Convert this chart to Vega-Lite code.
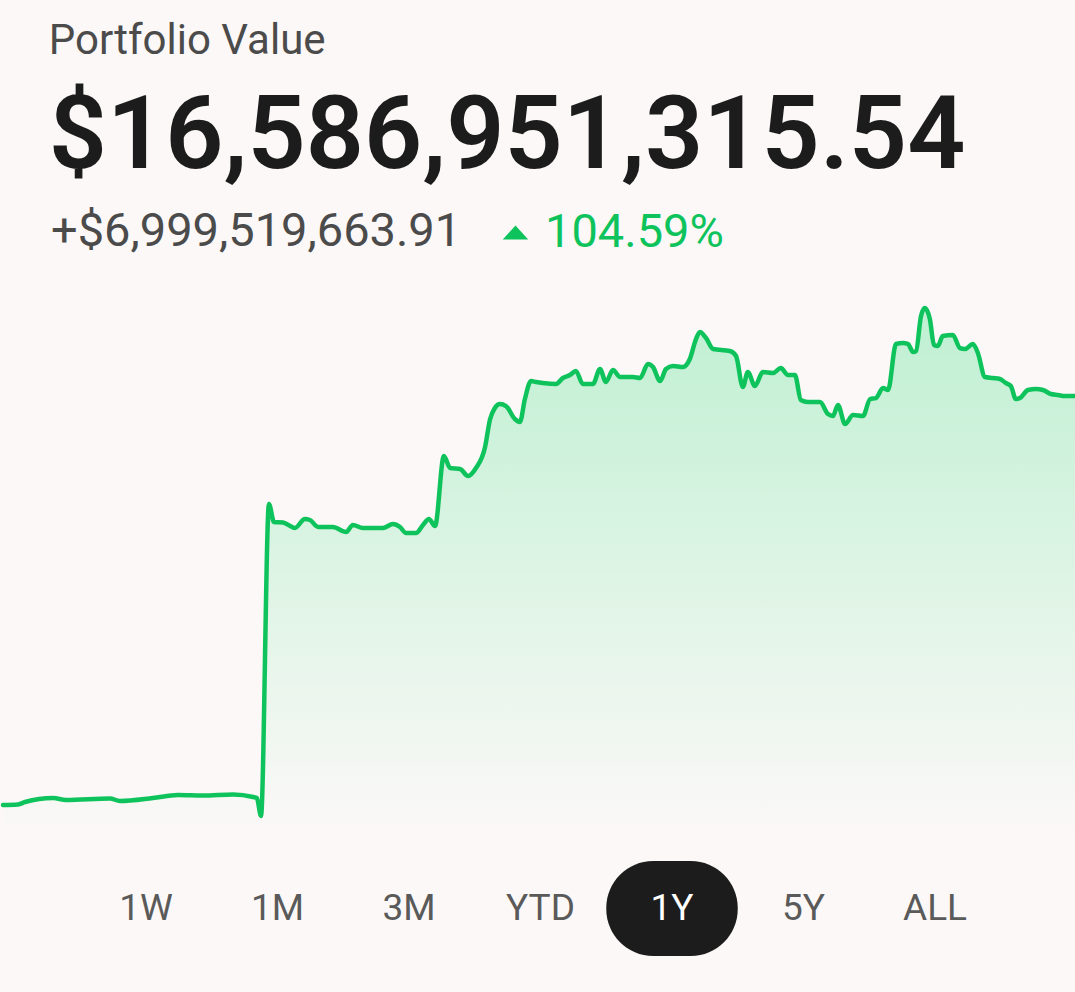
{
  "$schema": "https://vega.github.io/schema/vega-lite/v6.json",
  "description": "Portfolio value over one year, with range selector",
  "background": "#fbf8f7",
  "padding": {"top": 20, "left": 0, "right": 0, "bottom": 37},
  "config": {
    "view": {"stroke": null},
    "font": "Roboto"
  },
  "title": {
    "text": "Portfolio Value",
    "subtitle": "$16,586,951,315.54",
    "anchor": "start",
    "dx": 48,
    "offset": 20,
    "font": "Roboto",
    "fontSize": 42,
    "fontWeight": "normal",
    "color": "#4b4b4b",
    "subtitleFont": "Roboto",
    "subtitleFontSize": 102,
    "subtitleFontWeight": 600,
    "subtitleColor": "#1c1c1c",
    "subtitlePadding": 24
  },
  "spacing": 30,
  "vconcat": [
    {
      "width": 1075,
      "height": 540,
      "data": {
        "values": [
          {"day": 0, "value": 9.568}, {"day": 5.1, "value": 9.577}, {"day": 7.5, "value": 9.620},
          {"day": 17.0, "value": 9.688}, {"day": 21.4, "value": 9.654}, {"day": 36.3, "value": 9.680},
          {"day": 39.7, "value": 9.637}, {"day": 50.9, "value": 9.688}, {"day": 59.4, "value": 9.740},
          {"day": 67.9, "value": 9.731}, {"day": 78.1, "value": 9.749}, {"day": 84.9, "value": 9.706},
          {"day": 86.2, "value": 9.688}, {"day": 87.6, "value": 9.380}, {"day": 90.3, "value": 14.734},
          {"day": 92.0, "value": 14.425}, {"day": 95.1, "value": 14.416}, {"day": 99.1, "value": 14.322},
          {"day": 102.5, "value": 14.476}, {"day": 104.2, "value": 14.459}, {"day": 107.0, "value": 14.339},
          {"day": 112.0, "value": 14.339}, {"day": 116.5, "value": 14.253}, {"day": 118.8, "value": 14.373},
          {"day": 122.2, "value": 14.322}, {"day": 129.0, "value": 14.322}, {"day": 132.4, "value": 14.390},
          {"day": 134.8, "value": 14.339}, {"day": 136.8, "value": 14.236}, {"day": 140.2, "value": 14.236},
          {"day": 142.6, "value": 14.373}, {"day": 144.6, "value": 14.476}, {"day": 146.7, "value": 14.356},
          {"day": 149.7, "value": 15.557}, {"day": 151.8, "value": 15.351}, {"day": 155.2, "value": 15.334},
          {"day": 157.9, "value": 15.214}, {"day": 160.6, "value": 15.351}, {"day": 163.6, "value": 15.694},
          {"day": 165.4, "value": 16.192}, {"day": 167.0, "value": 16.381}, {"day": 168.7, "value": 16.450},
          {"day": 170.8, "value": 16.415}, {"day": 173.8, "value": 16.192}, {"day": 175.5, "value": 16.141},
          {"day": 177.2, "value": 16.535}, {"day": 179.3, "value": 16.844}, {"day": 181.0, "value": 16.827},
          {"day": 183.3, "value": 16.810}, {"day": 187.8, "value": 16.793}, {"day": 190.1, "value": 16.896},
          {"day": 192.5, "value": 16.947}, {"day": 194.5, "value": 17.016}, {"day": 196.9, "value": 16.793},
          {"day": 200.3, "value": 16.793}, {"day": 202.7, "value": 17.050}, {"day": 204.7, "value": 16.827},
          {"day": 207.1, "value": 17.033}, {"day": 209.5, "value": 16.913}, {"day": 213.9, "value": 16.913},
          {"day": 216.3, "value": 16.896}, {"day": 219.0, "value": 17.136}, {"day": 220.7, "value": 17.084},
          {"day": 223.1, "value": 16.844}, {"day": 225.1, "value": 17.050}, {"day": 227.5, "value": 17.102},
          {"day": 230.9, "value": 17.084}, {"day": 233.2, "value": 17.222}, {"day": 235.3, "value": 17.565},
          {"day": 236.6, "value": 17.685}, {"day": 238.7, "value": 17.582}, {"day": 241.1, "value": 17.393},
          {"day": 246.8, "value": 17.359}, {"day": 248.9, "value": 17.273}, {"day": 251.2, "value": 16.741},
          {"day": 252.9, "value": 16.999}, {"day": 255.3, "value": 16.758}, {"day": 258.0, "value": 16.999},
          {"day": 261.4, "value": 16.981}, {"day": 264.1, "value": 17.067}, {"day": 266.5, "value": 16.947},
          {"day": 268.9, "value": 16.947}, {"day": 270.9, "value": 16.518}, {"day": 273.3, "value": 16.484},
          {"day": 277.4, "value": 16.484}, {"day": 280.1, "value": 16.278}, {"day": 281.8, "value": 16.244},
          {"day": 283.5, "value": 16.432}, {"day": 285.9, "value": 16.106}, {"day": 288.6, "value": 16.261},
          {"day": 292.0, "value": 16.244}, {"day": 294.4, "value": 16.535}, {"day": 296.4, "value": 16.552},
          {"day": 298.8, "value": 16.724}, {"day": 300.5, "value": 16.690}, {"day": 303.2, "value": 17.479},
          {"day": 305.6, "value": 17.496}, {"day": 307.3, "value": 17.479}, {"day": 309.0, "value": 17.342},
          {"day": 310.0, "value": 17.359}, {"day": 311.7, "value": 17.960}, {"day": 313.0, "value": 18.097},
          {"day": 314.7, "value": 17.908}, {"day": 316.1, "value": 17.462}, {"day": 317.4, "value": 17.445},
          {"day": 319.1, "value": 17.616}, {"day": 322.5, "value": 17.634}, {"day": 324.9, "value": 17.410},
          {"day": 326.6, "value": 17.393}, {"day": 329.3, "value": 17.479}, {"day": 331.0, "value": 17.325},
          {"day": 333.4, "value": 16.913}, {"day": 336.1, "value": 16.896}, {"day": 338.5, "value": 16.879},
          {"day": 340.5, "value": 16.810}, {"day": 342.2, "value": 16.758}, {"day": 343.9, "value": 16.535},
          {"day": 345.3, "value": 16.552}, {"day": 348.0, "value": 16.690}, {"day": 350.7, "value": 16.707},
          {"day": 353.1, "value": 16.690}, {"day": 355.8, "value": 16.621}, {"day": 358.2, "value": 16.604},
          {"day": 360.6, "value": 16.587}, {"day": 365.0, "value": 16.587}
        ]
      },
      "encoding": {
        "x": {
          "field": "day",
          "type": "quantitative",
          "scale": {"domain": [0, 365], "nice": false, "zero": false},
          "axis": null
        },
        "y": {
          "field": "value",
          "type": "quantitative",
          "scale": {"domain": [9.122, 18.389], "nice": false, "zero": false},
          "axis": null
        }
      },
      "layer": [
        {
          "mark": {
            "type": "area",
            "interpolate": "monotone",
            "fill": {
              "gradient": "linear",
              "x1": 0, "y1": 0, "x2": 0, "y2": 1,
              "stops": [
                {"offset": 0, "color": "#bff0d2"},
                {"offset": 1, "color": "#fbf8f7"}
              ]
            }
          },
          "encoding": {
            "y2": {"datum": 9.122}
          }
        },
        {
          "mark": {
            "type": "line",
            "interpolate": "monotone",
            "strokeWidth": 4.5,
            "strokeCap": "round",
            "strokeJoin": "round"
          },
          "encoding": {
            "color": {
              "datum": "104.59%",
              "type": "nominal",
              "scale": {"range": ["#0fc35c"]},
              "legend": {
                "orient": "none",
                "legendX": 48,
                "legendY": -82,
                "padding": 0,
                "title": "+$6,999,519,663.91",
                "titleOrient": "left",
                "titleFont": "Roboto",
                "titleFontSize": 47,
                "titleFontWeight": "normal",
                "titleColor": "#4b4b4b",
                "titlePadding": 30,
                "titleLimit": 1000,
                "labelFont": "Roboto",
                "labelFontSize": 47,
                "labelColor": "#0fc35c",
                "labelLimit": 1000,
                "labelOffset": 6,
                "symbolType": "M-1,0.55L1,0.55L0,-0.55Z",
                "symbolSize": 650,
                "symbolStrokeWidth": 0,
                "symbolFillColor": "#0fc35c",
                "encode": {
                  "symbols": {
                    "update": {
                      "fill": {"value": "#0fc35c"},
                      "stroke": {"value": "transparent"},
                      "opacity": {"value": 1}
                    }
                  }
                }
              }
            }
          }
        }
      ]
    },
    {
      "width": 1075,
      "height": 95,
      "data": {
        "values": [
          {"range": "1W", "selected": false},
          {"range": "1M", "selected": false},
          {"range": "3M", "selected": false},
          {"range": "YTD", "selected": false},
          {"range": "1Y", "selected": true},
          {"range": "5Y", "selected": false},
          {"range": "ALL", "selected": false}
        ]
      },
      "encoding": {
        "x": {
          "field": "range",
          "type": "nominal",
          "scale": {
            "domain": ["1W", "1M", "3M", "YTD", "1Y", "5Y", "ALL"],
            "paddingInner": 0,
            "paddingOuter": 0.5875
          },
          "axis": null
        }
      },
      "layer": [
        {
          "transform": [{"filter": "datum.selected"}],
          "mark": {"type": "rect", "color": "#1c1c1c", "cornerRadius": 47}
        },
        {
          "mark": {"type": "text", "font": "Roboto", "fontSize": 37, "baseline": "middle"},
          "encoding": {
            "text": {"field": "range", "type": "nominal"},
            "color": {
              "condition": {"test": "datum.selected", "value": "#ffffff"},
              "value": "#5a5a5a"
            }
          }
        }
      ]
    }
  ]
}
